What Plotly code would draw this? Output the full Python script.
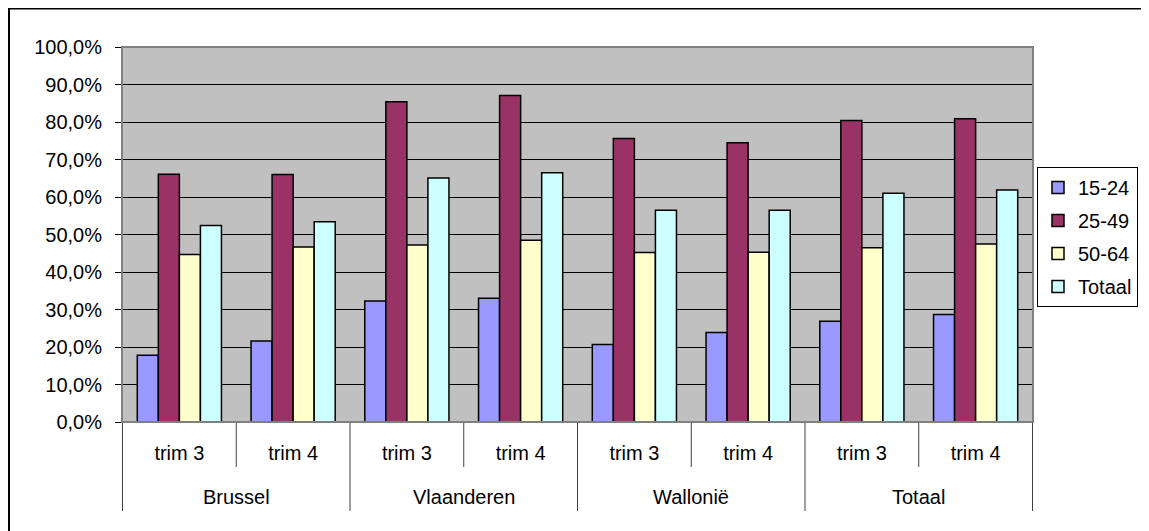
import plotly.graph_objects as go

regions = ["Brussel", "Brussel", "Vlaanderen", "Vlaanderen", "Wallonië", "Wallonië", "Totaal", "Totaal"]
trims = ["trim 3", "trim 4", "trim 3", "trim 4", "trim 3", "trim 4", "trim 3", "trim 4"]

age_15_24 = [17.8, 21.6, 32.3, 33.0, 20.7, 23.9, 26.9, 28.7]
age_25_49 = [66.1, 66.0, 85.4, 87.1, 75.6, 74.5, 80.4, 80.9]
age_50_64 = [44.7, 46.7, 47.2, 48.5, 45.2, 45.3, 46.5, 47.5]
totaal = [52.4, 53.4, 65.1, 66.5, 56.5, 56.5, 61.0, 61.9]

series = [
    ("15-24", age_15_24, "#9999FF"),
    ("25-49", age_25_49, "#993366"),
    ("50-64", age_50_64, "#FFFFCC"),
    ("Totaal", totaal, "#CCFFFF"),
]

# page body has an 8px margin; figure sized to fit the 1149x531 window
W, H = 1141, 523
ml, mr, mt, mb = 114, 116, 39, 109
pw, ph = W - ml - mr, H - mt - mb

cats = [f"{r} | {t}" for r, t in zip(regions, trims)]

fig = go.Figure()
for name, vals, col in series:
    fig.add_trace(go.Bar(
        x=cats, y=vals, name=name, legendgroup=name,
        marker=dict(color=col, line=dict(color="black", width=1.5)),
    ))

font = "Liberation Sans, Arial, sans-serif"
divc = "#404040"

shapes = []
annotations = []
# dividers: short between trims, long between regions (and at both ends)
for i in range(len(cats) + 1):
    pos = i - 0.5
    outer = (i == 0 or i == len(cats) or regions[i - 1] != regions[i])
    L = 89 if outer else 45
    shapes.append(dict(type="line", xref="x", yref="paper",
                       x0=pos, x1=pos, y0=0, y1=-L / ph,
                       line=dict(color=divc, width=1)))
# region labels
seen = []
for r in regions:
    if r not in seen:
        seen.append(r)
for r in seen:
    idx = [i for i, rr in enumerate(regions) if rr == r]
    annotations.append(dict(x=sum(idx) / len(idx), xref="x", y=-75 / ph, yref="paper",
                            text=r, showarrow=False, xanchor="center", yanchor="middle",
                            font=dict(size=20, family=font, color="black")))
# plot area frame
shapes.append(dict(type="rect", xref="paper", yref="paper", x0=0, x1=1, y0=0, y1=1,
                   line=dict(color="#808080", width=2), layer="above"))
# outer chart border
shapes.append(dict(type="rect", xref="paper", yref="paper",
                   x0=(1 - ml) / pw, x1=1.3, y0=-0.6, y1=(mt + ph - 0.5) / ph,
                   line=dict(color="black", width=2), layer="above"))

fig.update_layout(
    width=W, height=H,
    margin=dict(l=ml, r=mr, t=mt, b=mb, autoexpand=False),
    paper_bgcolor="white", plot_bgcolor="#C0C0C0",
    barmode="group", bargap=0.26, bargroupgap=0,
    separators=",.",
    font=dict(family=font, size=20, color="black"),
    xaxis=dict(type="category", tickvals=cats, ticktext=trims,
               showline=True, linecolor="black", linewidth=1,
               ticks="outside", ticklen=13, tickcolor="rgba(0,0,0,0)",
               tickfont=dict(size=20, family=font), showgrid=False),
    yaxis=dict(range=[0, 100], dtick=10, tickformat=".1f", ticksuffix="%",
               showline=True, linecolor="black", linewidth=1,
               ticks="outside", ticklen=6, tickcolor="black",
               ticklabelstandoff=9,
               gridcolor="black", gridwidth=1, zeroline=False,
               tickfont=dict(size=20, family=font)),
    legend=dict(x=(1130 - ml) / pw, xanchor="right", y=(mt + ph - 159) / ph, yanchor="top",
                bordercolor="black", borderwidth=1, bgcolor="white",
                font=dict(size=20, family=font), tracegroupgap=4),
    shapes=shapes,
    annotations=annotations,
)

fig.write_html("out.html")
